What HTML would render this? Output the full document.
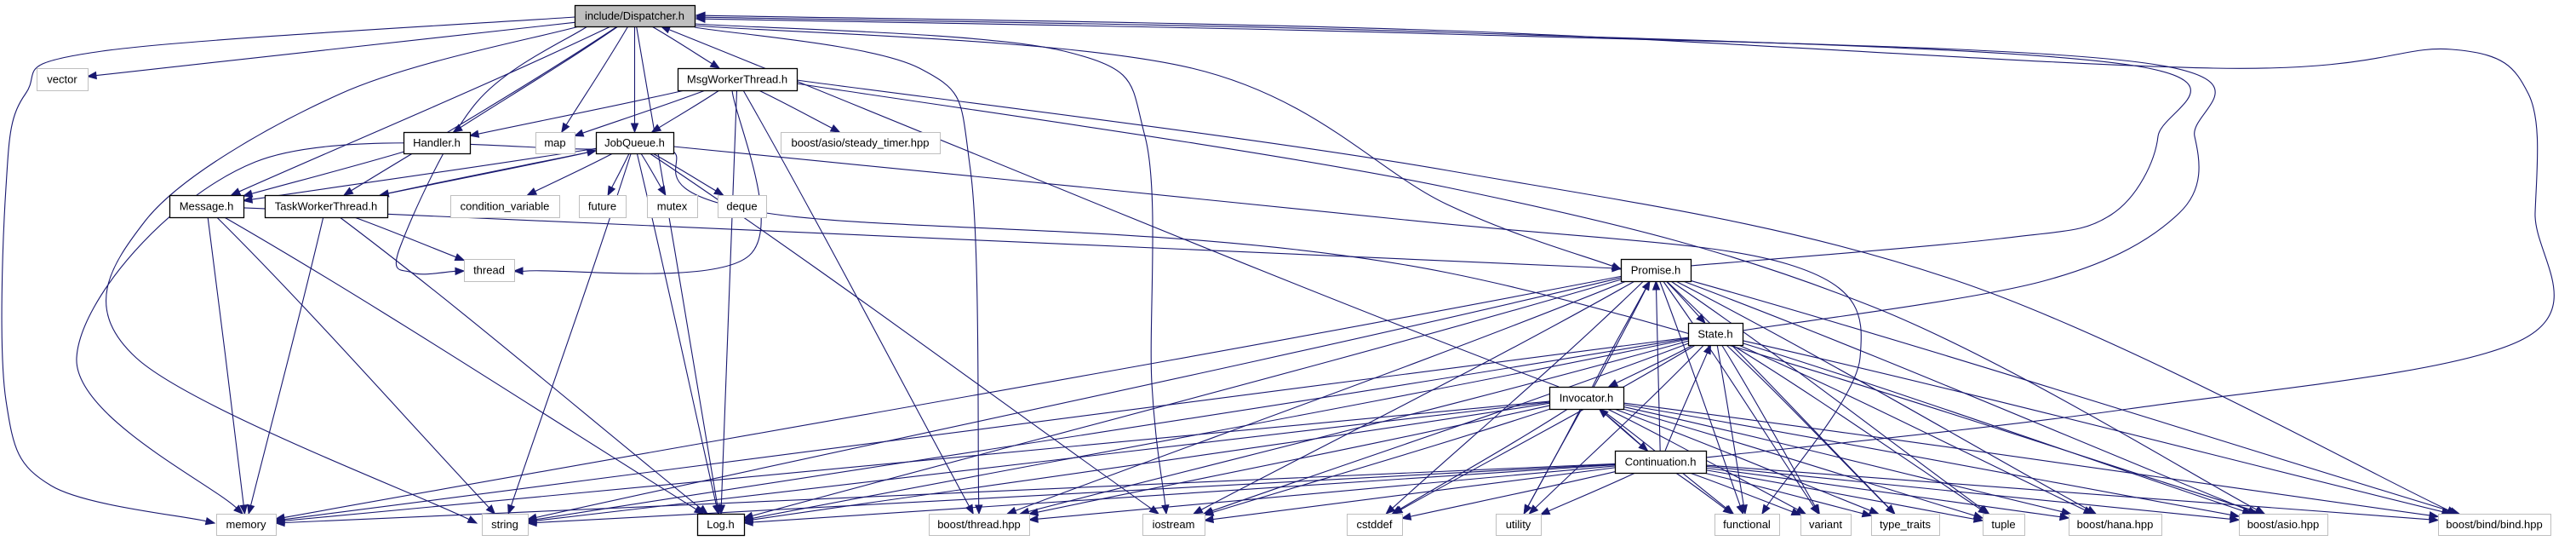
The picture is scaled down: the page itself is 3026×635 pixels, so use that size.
<!DOCTYPE html>
<html><head><meta charset="utf-8">
<style>
html,body{margin:0;padding:0;background:#fff;}
svg{display:block;}
text{font-family:"Liberation Sans",sans-serif;font-size:13px;fill:#000;}
</style></head>
<body>
<svg id="g" width="3026" height="635" viewBox="0 0 3026 635" xmlns="http://www.w3.org/2000/svg">
<g id="edges"></g>
<g id="nodes"></g>
</svg>
<script>
// node names, boxes [x1,y1,x2,y2], style kind (0=root,1=project header,2=system header)
const nodeNames = ["include/Dispatcher.h","vector","MsgWorkerThread.h","Handler.h","map","JobQueue.h","boost/asio/steady_timer.hpp","Message.h","TaskWorkerThread.h","condition_variable","future","mutex","deque","thread","Promise.h","State.h","Invocator.h","Continuation.h","memory","string","Log.h","boost/thread.hpp","iostream","cstddef","utility","functional","variant","type_traits","tuple","boost/hana.hpp","boost/asio.hpp","boost/bind/bind.hpp"];
const nodeBoxes = [[675,6,816,31],[43,80,103,106],[796,80,936,106],[474,155,552,180],[629,155,675,180],[700,155,791,180],[917,155,1104,180],[199,229,286,255],[311,229,455,255],[529,229,657,255],[680,229,735,255],[760,229,819,255],[843,229,900,255],[545,304,604,330],[1904,304,1986,330],[1983,379,2047,405],[1820,454,1907,480],[1897,529,2004,555],[254,603,324,628],[566,603,620,628],[819,603,874,628],[1091,603,1209,628],[1342,603,1415,628],[1582,603,1647,628],[1757,603,1810,628],[2014,603,2090,628],[2115,603,2174,628],[2198,603,2278,628],[2329,603,2378,628],[2430,603,2539,628],[2630,603,2734,628],[2864,603,2996,628]];
const nodeKinds = [0,2,1,1,2,1,2,1,1,2,2,2,2,2,1,1,1,1,2,2,1,2,2,2,2,2,2,2,2,2,2,2];
// edges: [from, to]
const edgeList = [
["include/Dispatcher.h","vector"],["include/Dispatcher.h","MsgWorkerThread.h"],["include/Dispatcher.h","Handler.h"],["include/Dispatcher.h","map"],["include/Dispatcher.h","JobQueue.h"],["include/Dispatcher.h","Message.h"],["include/Dispatcher.h","TaskWorkerThread.h"],["include/Dispatcher.h","Log.h"],
["MsgWorkerThread.h","Handler.h"],["MsgWorkerThread.h","map"],["MsgWorkerThread.h","JobQueue.h"],["MsgWorkerThread.h","boost/asio/steady_timer.hpp"],["MsgWorkerThread.h","Log.h"],["MsgWorkerThread.h","boost/thread.hpp"],
["Handler.h","Message.h"],
["JobQueue.h","condition_variable"],["JobQueue.h","future"],["JobQueue.h","mutex"],["JobQueue.h","deque"],["JobQueue.h","Message.h"],["JobQueue.h","TaskWorkerThread.h"],["JobQueue.h","Log.h"],["JobQueue.h","iostream"],["JobQueue.h","string"],
["TaskWorkerThread.h","JobQueue.h"],["TaskWorkerThread.h","thread"],["TaskWorkerThread.h","memory"],["TaskWorkerThread.h","Log.h"],
["Message.h","memory"],["Message.h","string"],["Message.h","Log.h"],["Message.h","Promise.h"],
["Promise.h","State.h"],["Promise.h","memory"],["Promise.h","string"],["Promise.h","Log.h"],["Promise.h","boost/thread.hpp"],["Promise.h","iostream"],["Promise.h","cstddef"],["Promise.h","utility"],["Promise.h","functional"],["Promise.h","variant"],["Promise.h","type_traits"],["Promise.h","tuple"],["Promise.h","boost/hana.hpp"],["Promise.h","boost/asio.hpp"],["Promise.h","boost/bind/bind.hpp"],
["State.h","Invocator.h"],["State.h","memory"],["State.h","string"],["State.h","Log.h"],["State.h","boost/thread.hpp"],["State.h","iostream"],["State.h","cstddef"],["State.h","utility"],["State.h","functional"],["State.h","variant"],["State.h","type_traits"],["State.h","tuple"],["State.h","boost/hana.hpp"],["State.h","boost/asio.hpp"],["State.h","boost/bind/bind.hpp"],
["Invocator.h","Promise.h"],["Invocator.h","Continuation.h"],["Invocator.h","memory"],["Invocator.h","string"],["Invocator.h","Log.h"],["Invocator.h","boost/thread.hpp"],["Invocator.h","iostream"],["Invocator.h","cstddef"],["Invocator.h","utility"],["Invocator.h","functional"],["Invocator.h","variant"],["Invocator.h","type_traits"],["Invocator.h","tuple"],["Invocator.h","boost/hana.hpp"],["Invocator.h","boost/asio.hpp"],["Invocator.h","boost/bind/bind.hpp"],["Invocator.h","include/Dispatcher.h"],
["Continuation.h","Invocator.h"],["Continuation.h","Promise.h"],["Continuation.h","State.h"],["Continuation.h","memory"],["Continuation.h","string"],["Continuation.h","Log.h"],["Continuation.h","boost/thread.hpp"],["Continuation.h","iostream"],["Continuation.h","cstddef"],["Continuation.h","utility"],["Continuation.h","functional"],["Continuation.h","variant"],["Continuation.h","type_traits"],["Continuation.h","tuple"],["Continuation.h","boost/hana.hpp"],["Continuation.h","boost/asio.hpp"],["Continuation.h","boost/bind/bind.hpp"]
];
// routed edges: [from, to, waypoints]
const routedEdges = [
["include/Dispatcher.h","memory",[[675,20],[120,60],[30,110],[7,220],[7,470],[60,570],[252,614]]],
["include/Dispatcher.h","string",[[680,31],[400,110],[170,260],[160,420],[560,614]]],
["include/Dispatcher.h","thread",[[690,31],[560,120],[470,290],[484,320],[545,318]]],
["include/Dispatcher.h","iostream",[[816,28],[1250,60],[1345,160],[1353,450],[1370,603]]],
["include/Dispatcher.h","boost/thread.hpp",[[816,32],[1080,80],[1140,200],[1150,603]]],
["include/Dispatcher.h","Promise.h",[[816,30],[1400,80],[1700,240],[1904,316]]],
["Promise.h","include/Dispatcher.h",[[1986,312],[2350,280],[2480,252],[2535,160],[2500,76],[1700,38],[818,20]]],
["State.h","include/Dispatcher.h",[[2047,388],[2400,330],[2560,250],[2578,160],[2520,74],[1700,40],[818,22]]],
["Continuation.h","include/Dispatcher.h",[[2004,537],[2500,480],[2960,400],[2978,250],[2970,110],[2880,58],[2600,80],[1700,36],[818,18]]],
["MsgWorkerThread.h","boost/asio.hpp",[[936,98],[1700,220],[2200,360],[2660,603]]],
["MsgWorkerThread.h","boost/bind/bind.hpp",[[936,94],[1700,200],[2300,330],[2885,603]]],
["MsgWorkerThread.h","thread",[[860,106],[880,300],[620,318],[604,318]]],
["JobQueue.h","functional",[[791,172],[1650,258],[2100,310],[2185,420],[2070,603]]],
["JobQueue.h","memory",[[700,175],[300,190],[90,420],[285,603]]],
["JobQueue.h","boost/asio.hpp",[[791,178],[900,250],[1700,320],[2660,603]]]
];
const NS="http://www.w3.org/2000/svg";
const idx={};nodeNames.forEach((n,i)=>idx[n]=i);
const col="#191970";
const eg=document.getElementById('edges'), ng=document.getElementById('nodes');
function center(b){return [(b[0]+b[2])/2,(b[1]+b[3])/2];}
function clip(b,from,to){ // point on box b border along segment from center(b) toward 'to'
  const c=center(b);const dx=to[0]-c[0],dy=to[1]-c[1];
  const hw=(b[2]-b[0])/2,hh=(b[3]-b[1])/2;
  let t=Math.min(dx?hw/Math.abs(dx):1e9,dy?hh/Math.abs(dy):1e9);
  return [c[0]+dx*t,c[1]+dy*t];
}
function arrow(p,q){ // arrowhead ending at q from direction p
  const dx=q[0]-p[0],dy=q[1]-p[1],L=Math.hypot(dx,dy)||1,ux=dx/L,uy=dy/L;
  const bx=q[0]-ux*10,by=q[1]-uy*10;
  const a=document.createElementNS(NS,'polygon');
  a.setAttribute('points',`${q[0]},${q[1]} ${bx-uy*4},${by+ux*4} ${bx+uy*4},${by-ux*4}`);
  a.setAttribute('fill',col);a.setAttribute('stroke',col);
  
  
  eg.appendChild(a);
  return [bx,by];
}
function addPath(d,name){
  const p=document.createElementNS(NS,'path');
  p.setAttribute('d',d);p.setAttribute('fill','none');p.setAttribute('stroke',col);p.setAttribute('stroke-width','1.1');
  
  
  eg.appendChild(p);
}
// simple edges
edgeList.forEach(([f,t])=>{
  const bf=nodeBoxes[idx[f]],bt=nodeBoxes[idx[t]];
  const cf=center(bf),ct=center(bt);
  const s=clip(bf,cf,ct), e=clip(bt,ct,cf);
  const dx=e[0]-s[0],dy=e[1]-s[1];
  const bend=Math.sign(dx)*Math.min(Math.abs(dy)*0.12,40);
  const c1=[s[0]+dx/3,s[1]+dy/3-bend*0.2], c2=[s[0]+2*dx/3,s[1]+2*dy/3+0];
  const b=arrow(c2,e);
  addPath(`M${s[0]},${s[1]} C${c1[0]},${c1[1]} ${c2[0]},${c2[1]} ${b[0]},${b[1]}`,'edge-'+f+'-to-'+t);
});
// routed edges via Catmull-Rom
routedEdges.forEach(([f,t,pts])=>{
  const P=pts.slice();
  const last=P[P.length-1],prev=P[P.length-2];
  const b=arrow(prev,last);P[P.length-1]=b;
  let d=`M${P[0][0]},${P[0][1]}`;
  for(let i=0;i<P.length-1;i++){
    const p0=P[i-1]||P[i],p1=P[i],p2=P[i+1],p3=P[i+2]||P[i+1];
    const c1=[p1[0]+(p2[0]-p0[0])/6,p1[1]+(p2[1]-p0[1])/6];
    const c2=[p2[0]-(p3[0]-p1[0])/6,p2[1]-(p3[1]-p1[1])/6];
    d+=` C${c1[0]},${c1[1]} ${c2[0]},${c2[1]} ${p2[0]},${p2[1]}`;
  }
  addPath(d,'edge-'+f+'-to-'+t);
});
// nodes
nodeNames.forEach((n,i)=>{
  const b=nodeBoxes[i],k=nodeKinds[i];
  const g=document.createElementNS(NS,'g');
  
  
  const r=document.createElementNS(NS,'rect');
  r.setAttribute('x',b[0]+0.5);r.setAttribute('y',b[1]+0.5);r.setAttribute('width',b[2]-b[0]);r.setAttribute('height',b[3]-b[1]);
  r.setAttribute('fill',k==0?'#bfbfbf':'#fff');
  r.setAttribute('stroke',k==2?'#bfbfbf':'#000');
  r.setAttribute('stroke-width',k==2?'1':'1.3');
  g.appendChild(r);
  const tx=document.createElementNS(NS,'text');
  tx.setAttribute('x',(b[0]+b[2])/2);tx.setAttribute('y',(b[1]+b[3])/2+4.5);
  tx.setAttribute('text-anchor','middle');
  tx.textContent=n;
  g.appendChild(tx);
  ng.appendChild(g);
});
</script>
</body></html>
